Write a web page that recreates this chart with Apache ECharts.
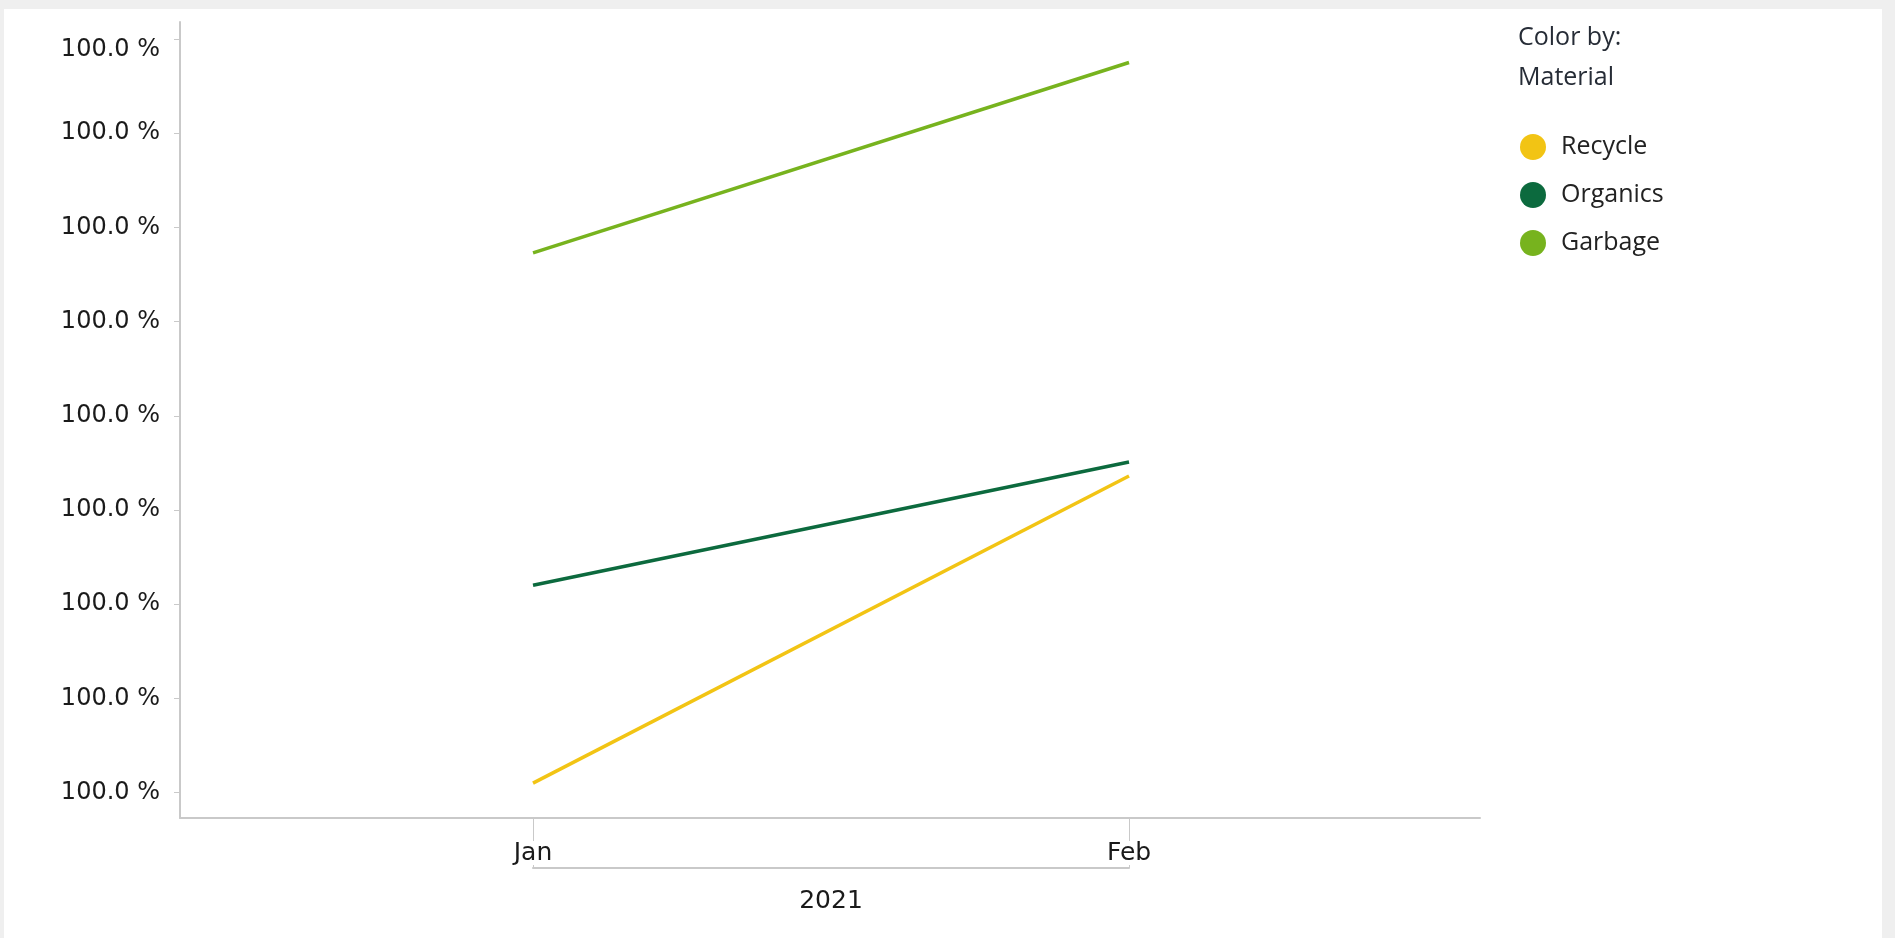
<!DOCTYPE html>
<html><head><meta charset="utf-8">
<script src="https://cdn.jsdelivr.net/npm/echarts@6/dist/echarts.min.js"></script>
<style>
html,body{margin:0;padding:0;background:#efefef;width:1895px;height:938px;overflow:hidden}
#c{position:absolute;left:4px;top:9px;width:1878px;height:929px;background:#fff}
</style></head><body><div id="c"></div>
<script>
// ---- data ----
const months = ['Jan', 'Feb'];
const yearLabel = '2021';
const seriesNames = ['Recycle', 'Organics', 'Garbage'];
const recycle = [0.9999610, 0.9999936];
const organics = [0.9999820, 0.9999951];
const garbage = [1.0000173, 1.0000375];
const yTicks = [0.99996, 0.99997, 0.99998, 0.99999, 1.00000, 1.00001, 1.00002, 1.00003, 1.00004];
const monthIdx = [0, 1];
const legendTitle = 'Color by:\nMaterial';

// ---- styling ----
const colors = ['#F2C414', '#0C6A3E', '#77B31E'];
const axisGray = '#c9c9c9';
const yMin = 0.9999573, yMax = 1.0000418;
const xMin = -0.5923, xMax = 1.5889;

const chart = echarts.init(document.getElementById('c'));
const fmtPct = v => (v * 100).toFixed(1) + ' %';
const valuesBy = [recycle, organics, garbage];

const option = {
  animation: false,
  backgroundColor: '#fff',
  title: {
    text: legendTitle,
    left: 1509, top: 4,
    textStyle: { fontFamily: 'Open Sans', fontSize: 25, fontWeight: 'normal', color: '#262c36', lineHeight: 40 }
  },
  legend: {
    orient: 'vertical',
    left: 1511, top: 120,
    icon: 'circle',
    itemWidth: 26, itemHeight: 26,
    itemGap: 22,
    data: seriesNames,
    textStyle: { fontFamily: 'Open Sans', fontSize: 25, color: '#222', padding: [0, 0, 0, 10] }
  },
  grid: [
    { left: 176, top: 13, right: 402, bottom: 120, outerBoundsMode: 'none' },
    { left: 529, width: 596, top: 809, height: 50, outerBoundsMode: 'none' }
  ],
  xAxis: [
    {
      type: 'value', gridIndex: 0, min: xMin, max: xMax,
      splitLine: { show: false },
      axisLine: { show: true, onZero: false, lineStyle: { color: axisGray, width: 2 } },
      axisTick: { show: true, customValues: monthIdx, length: 50, lineStyle: { color: axisGray, width: 1 } },
      axisLabel: {
        customValues: monthIdx, margin: 23,
        formatter: v => months[Math.round(v)] || '',
        fontFamily: 'DejaVu Sans', fontSize: 25, color: '#1a1a1a', lineHeight: 24,
        backgroundColor: '#fff', padding: [0, 2, 0, 2]
      }
    },
    {
      type: 'value', gridIndex: 1, min: 0, max: 1,
      splitLine: { show: false },
      axisLine: { show: true, onZero: false, lineStyle: { color: axisGray, width: 2 } },
      axisTick: { show: false },
      axisLabel: { show: false },
      name: yearLabel, nameLocation: 'middle', nameGap: 21,
      nameTextStyle: { fontFamily: 'DejaVu Sans', fontSize: 25, color: '#1a1a1a' }
    }
  ],
  yAxis: [
    {
      type: 'value', gridIndex: 0, min: yMin, max: yMax,
      splitLine: { show: false },
      axisLine: { show: true, onZero: false, lineStyle: { color: axisGray, width: 2 } },
      axisTick: { show: true, customValues: yTicks, length: 6, lineStyle: { color: axisGray } },
      axisLabel: {
        customValues: yTicks, margin: 20,
        fontFamily: 'DejaVu Sans', fontSize: 24, color: '#1a1a1a',
        formatter: v => {
          const s = fmtPct(v);
          return Math.abs(v - yTicks[yTicks.length - 1]) < 1e-9 ? '{t|' + s + '}' : s;
        },
        rich: { t: { fontFamily: 'DejaVu Sans', fontSize: 24, color: '#1a1a1a', padding: [22, 0, 0, 0] } }
      }
    },
    { type: 'value', gridIndex: 1, show: false, min: 0, max: 1 }
  ],
  series: seriesNames.map((name, k) => ({
    name, type: 'line', xAxisIndex: 0, yAxisIndex: 0,
    color: colors[k],
    showSymbol: false, symbol: 'circle',
    lineStyle: { width: 3.5, color: colors[k] },
    data: monthIdx.map(i => [i, valuesBy[k][i]])
  }))
};
chart.setOption(option);
</script></body></html>
